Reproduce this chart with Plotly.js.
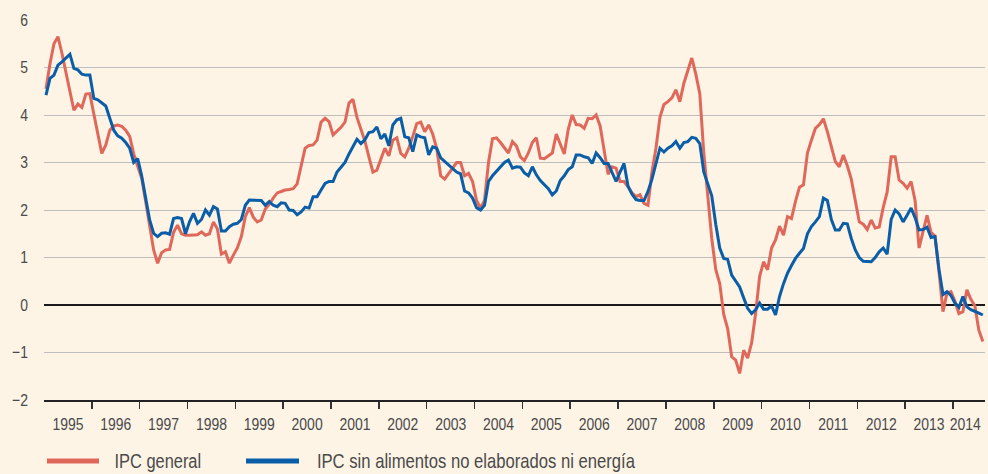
<!DOCTYPE html>
<html>
<head>
<meta charset="utf-8">
<script src="https://cdn.plot.ly/plotly-3.0.1.min.js"></script>
<style>
html,body{margin:0;padding:0;background:#fdf4e6;}
#chart{width:988px;height:474px;}
</style>
</head>
<body>
<div id="chart"></div>
<script>
// Monthly year-on-year rates, Jan 1995 .. Aug 2014
const startYear = 1995;
const yearLabels = ['1995','1996','1997','1998','1999','2000','2001','2002','2003','2004','2005','2006','2007','2008','2009','2010','2011','2012','2013','2014'];
const seriesNames = ['IPC general', 'IPC sin alimentos no elaborados ni energía'];

const ipcGeneral = [
  4.55, 5.08, 5.5, 5.65, 5.3, 4.9, 4.5, 4.1, 4.23, 4.16, 4.44, 4.45,      // 1995
  4.02, 3.6, 3.19, 3.37, 3.68, 3.77, 3.79, 3.76, 3.68, 3.55, 3.18, 2.92,  // 1996
  2.67, 2.18, 1.65, 1.16, 0.88, 1.1, 1.16, 1.17, 1.53, 1.68, 1.5, 1.47,   // 1997
  1.47, 1.47, 1.48, 1.54, 1.47, 1.5, 1.75, 1.6, 1.07, 1.12, 0.88, 1.05,   // 1998
  1.2, 1.44, 1.86, 2.05, 1.85, 1.75, 1.79, 2.02, 2.12, 2.25, 2.36, 2.39,  // 1999
  2.42, 2.43, 2.45, 2.55, 2.95, 3.3, 3.36, 3.37, 3.47, 3.85, 3.93, 3.86,  // 2000
  3.58, 3.66, 3.74, 3.85, 4.25, 4.33, 3.95, 3.7, 3.45, 3.12, 2.8, 2.84,   // 2001
  3.05, 3.3, 3.14, 3.47, 3.52, 3.19, 3.12, 3.3, 3.55, 3.82, 3.85, 3.65,   // 2002
  3.79, 3.6, 3.3, 2.72, 2.65, 2.77, 2.88, 3.0, 3.0, 2.72, 2.77, 2.6,      // 2003
  2.2, 2.04, 2.2, 3.0, 3.5, 3.52, 3.42, 3.32, 3.2, 3.44, 3.35, 3.12,      // 2004
  3.04, 3.2, 3.42, 3.52, 3.09, 3.08, 3.15, 3.2, 3.6, 3.38, 3.18, 3.7,     // 2005
  4.0, 3.8, 3.79, 3.72, 3.93, 3.92, 4.0, 3.77, 3.3, 2.75, 2.91, 2.88,     // 2006
  2.6, 2.6, 2.49, 2.36, 2.28, 2.32, 2.14, 2.1, 2.8, 3.3, 3.95, 4.22,      // 2007
  4.28, 4.36, 4.53, 4.28, 4.67, 4.95, 5.2, 4.86, 4.45, 3.2, 2.35, 1.4,    // 2008
  0.75, 0.45, -0.2, -0.5, -1.09, -1.16, -1.44, -0.95, -1.12, -0.8, -0.18, 0.6, // 2009
  0.91, 0.74, 1.2, 1.37, 1.66, 1.47, 1.86, 1.82, 2.18, 2.48, 2.53, 3.2,   // 2010
  3.47, 3.72, 3.8, 3.92, 3.65, 3.32, 3.02, 2.91, 3.16, 2.93, 2.65, 2.2,   // 2011
  1.75, 1.7, 1.59, 1.79, 1.62, 1.64, 2.05, 2.38, 3.12, 3.12, 2.63, 2.56,  // 2012
  2.46, 2.6, 2.2, 1.2, 1.53, 1.89, 1.53, 1.45, 0.7, -0.14, 0.25, 0.28,    // 2013
  0.08, -0.18, -0.14, 0.32, 0.12, -0.02, -0.53, -0.77                     // 2014
];

const ipcSubyacente = [
  4.42, 4.77, 4.84, 5.05, 5.12, 5.19, 5.28, 4.98, 4.95, 4.86, 4.84, 4.84, // 1995
  4.35, 4.32, 4.26, 4.19, 3.93, 3.68, 3.56, 3.51, 3.42, 3.3, 3.0, 3.08,   // 1996
  2.72, 2.21, 1.79, 1.51, 1.44, 1.51, 1.52, 1.49, 1.82, 1.84, 1.82, 1.5,  // 1997
  1.75, 1.93, 1.72, 1.8, 2.0, 1.89, 2.07, 2.02, 1.56, 1.56, 1.65, 1.7,    // 1998
  1.72, 1.8, 2.1, 2.21, 2.21, 2.21, 2.2, 2.1, 2.18, 2.1, 2.07, 2.15,      // 1999
  2.14, 2.0, 1.99, 1.9, 1.96, 2.06, 2.04, 2.28, 2.28, 2.42, 2.56, 2.6,    // 2000
  2.6, 2.8, 2.9, 3.0, 3.18, 3.35, 3.49, 3.4, 3.48, 3.63, 3.65, 3.75,      // 2001
  3.5, 3.6, 3.35, 3.79, 3.9, 3.93, 3.54, 3.52, 3.23, 3.58, 3.54, 3.52,    // 2002
  3.16, 3.33, 3.3, 3.1, 3.02, 2.95, 2.86, 2.8, 2.76, 2.4, 2.36, 2.25,     // 2003
  2.05, 2.0, 2.1, 2.6, 2.72, 2.81, 2.92, 3.0, 3.05, 2.88, 2.91, 2.9,      // 2004
  2.78, 2.72, 2.91, 2.74, 2.62, 2.53, 2.45, 2.32, 2.4, 2.62, 2.72, 2.85,  // 2005
  2.91, 3.16, 3.16, 3.12, 3.1, 2.98, 3.2, 3.1, 2.98, 2.98, 2.8, 2.6,      // 2006
  2.8, 2.98, 2.5, 2.33, 2.22, 2.2, 2.2, 2.39, 2.65, 3.0, 3.3, 3.22,       // 2007
  3.3, 3.35, 3.44, 3.3, 3.42, 3.44, 3.53, 3.51, 3.4, 2.8, 2.55, 2.3,      // 2008
  1.7, 1.2, 0.98, 0.96, 0.63, 0.5, 0.38, 0.15, -0.07, -0.18, -0.1, 0.04,  // 2009
  -0.09, -0.09, -0.02, -0.21, 0.18, 0.45, 0.67, 0.83, 0.98, 1.09, 1.19, 1.5, // 2010
  1.65, 1.75, 1.86, 2.25, 2.2, 1.8, 1.58, 1.58, 1.72, 1.71, 1.4, 1.16,    // 2011
  1.0, 0.92, 0.91, 0.91, 1.0, 1.12, 1.2, 1.07, 1.8, 2.0, 1.92, 1.75,      // 2012
  1.89, 2.04, 1.84, 1.58, 1.59, 1.64, 1.42, 1.44, 0.75, 0.22, 0.28, 0.2,  // 2013
  0.04, -0.05, 0.18, -0.04, -0.1, -0.13, -0.17, -0.21                     // 2014
];

// x position of each monthly observation (middle of the month, in decimal years)
const months = ipcGeneral.map((_, i) => startYear + (i + 0.5) / 12);
const xEnd = 2014.67;

const FONT = "'Liberation Sans', Arial, sans-serif";
const SQUEEZE = 0.82;   // horizontal condensing of all texts (reference uses a condensed face)
const TXT = '#4a4a4a';
const RED = '#e0685a';
const BLUE = '#0a5ea8';

const yearStarts = yearLabels.slice(1).map(Number);
const labelPos = yearLabels.map(y => {
  const s = Number(y);
  return s + 1 <= xEnd ? s + 0.5 : s + (xEnd - s) * 0.38;
});

const traces = [
  {x: months, y: ipcGeneral, type: 'scatter', mode: 'lines', name: seriesNames[0],
   line: {color: RED, width: 3}, hoverinfo: 'skip'},
  {x: months, y: ipcSubyacente, type: 'scatter', mode: 'lines', name: seriesNames[1],
   line: {color: BLUE, width: 3}, hoverinfo: 'skip'}
];

const W = 988, H = 474, mL = 44, mR = 3, mT = 20, mB = 74;
const pw = W - mL - mR, ph = H - mT - mB;
const px = v => (v - mL) / pw;
const py = v => (H - mB - v) / ph;
const legY = 461;

const layout = {
  width: W, height: H,
  margin: {l: mL, r: mR, t: mT, b: mB, pad: 0},
  paper_bgcolor: '#fdf4e6',
  plot_bgcolor: '#fdf4e6',
  showlegend: false,
  font: {family: FONT, size: 17, color: TXT},
  xaxis: {
    range: [startYear, xEnd],
    showgrid: false, zeroline: false,
    showline: true, linecolor: '#222', linewidth: 1.5,
    tickmode: 'array', tickvals: labelPos, ticktext: yearLabels,
    ticks: '', ticklabelstandoff: 8, ticklabeloverflow: 'allow', tickangle: 0,
    tickfont: {family: FONT, size: 17, color: TXT},
    minor: {tickmode: 'array', tickvals: yearStarts, ticks: 'outside', ticklen: 7, tickwidth: 1.5, tickcolor: '#333', showgrid: false}
  },
  yaxis: {
    range: [-2, 6], dtick: 1, tick0: 0,
    showgrid: true, gridcolor: '#bdbdbd', gridwidth: 1,
    zeroline: true, zerolinecolor: '#1a1a1a', zerolinewidth: 2,
    showline: false, ticks: '', ticklabelstandoff: 15,
    tickfont: {family: FONT, size: 17, color: TXT}
  },
  shapes: [
    {type: 'line', xref: 'paper', yref: 'paper', x0: px(47), x1: px(99), y0: py(legY), y1: py(legY), line: {color: RED, width: 5}},
    {type: 'line', xref: 'paper', yref: 'paper', x0: px(246), x1: px(299), y0: py(legY), y1: py(legY), line: {color: BLUE, width: 5}}
  ],
  annotations: [
    {xref: 'paper', yref: 'paper', x: px(157.5), y: py(legY), xanchor: 'center', yanchor: 'middle', showarrow: false, text: seriesNames[0], font: {family: FONT, size: 20, color: TXT}},
    {xref: 'paper', yref: 'paper', x: px(476.5), y: py(legY), xanchor: 'center', yanchor: 'middle', showarrow: false, text: seriesNames[1], font: {family: FONT, size: 20.3, color: TXT}}
  ]
};

Plotly.newPlot('chart', traces, layout, {staticPlot: true, displayModeBar: false}).then(gd => {
  gd.querySelectorAll('svg text').forEach(t => {
    const L = t.getComputedTextLength();
    if (L > 0) {
      t.setAttribute('textLength', (L * SQUEEZE).toFixed(2));
      t.setAttribute('lengthAdjust', 'spacingAndGlyphs');
    }
  });
});
</script>
</body>
</html>
